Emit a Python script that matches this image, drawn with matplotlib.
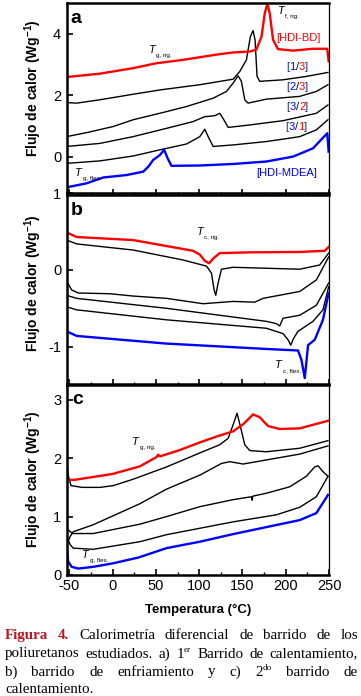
import matplotlib
matplotlib.use("Agg")
import matplotlib.pyplot as plt
from matplotlib.offsetbox import TextArea, HPacker, AnnotationBbox

plt.rcParams['font.family'] = ['Liberation Sans', 'DejaVu Sans']
plt.rcParams['mathtext.fontset'] = 'custom'
plt.rcParams['mathtext.rm'] = 'Liberation Sans'
plt.rcParams['mathtext.bf'] = 'Liberation Sans:bold'
plt.rcParams['mathtext.it'] = 'Liberation Sans:italic'
plt.rcParams['axes.unicode_minus'] = False

# ---------------- data: panel a (1st heating) ----------------
a_red_x = [-53.1, -14.6, 23.8, 50.8, 81.5, 120, 139.2, 158.5, 166, 172, 175.8, 178.8, 181.5, 185.4, 191, 208.5, 231.5, 248, 249.6]
a_red_y = [2.59, 2.70, 2.88, 3.04, 3.15, 3.32, 3.39, 3.42, 3.48, 3.9, 4.67, 4.98, 4.67, 3.8, 3.5, 3.45, 3.51, 3.51, 3.1]

a_13_x = [-53.1, -41.5, -14.6, 23.8, 54.6, 100.8, 139.2, 146.9, 154.6, 159.2, 162.3, 164.6, 166.9, 170, 196.9, 223.8, 248.8]
a_13_y = [1.76, 1.74, 1.85, 2.03, 2.17, 2.34, 2.52, 2.77, 3.15, 3.91, 4.1, 3.8, 2.61, 2.45, 2.5, 2.61, 2.74]

a_23_x = [-53.1, -30, 0.8, 23.8, 54.6, 85.4, 116, 131.5, 139.2, 145, 148.8, 152.7, 156.5, 177.7, 216, 235.4, 248.8]
a_23_y = [0.65, 0.78, 0.98, 1.2, 1.41, 1.63, 1.9, 2.12, 2.39, 2.63, 2.45, 1.85, 1.74, 1.87, 1.96, 2.12, 2.34]

a_32_x = [-53.1, -14.6, 23.8, 62.3, 93, 106.5, 118, 123.8, 128.5, 133.5, 158.5, 197, 235.4, 248.8]
a_32_y = [0.33, 0.43, 0.65, 0.92, 1.14, 1.30, 1.33, 1.41, 1.2, 0.95, 1.03, 1.17, 1.41, 1.68]

a_31_x = [-53.1, -14.6, 23.8, 54.6, 85.4, 100.8, 106.5, 110.4, 116.2, 139.2, 177.7, 216.2, 235.4, 248.8]
a_31_y = [-0.22, -0.14, 0.02, 0.22, 0.41, 0.65, 0.89, 0.65, 0.33, 0.38, 0.49, 0.65, 0.87, 1.2]

a_blue_x = [-53.1, -30, -10.8, 16.2, 35.4, 41.2, 46.9, 54.6, 59.6, 63.5, 68, 100.8, 139.2, 177.7, 208.5, 231.5, 248, 249.6]
a_blue_y = [-1.0, -0.87, -0.68, -0.6, -0.49, -0.33, -0.11, 0.05, 0.22, -0.05, -0.3, -0.29, -0.24, -0.16, 0.0, 0.27, 0.76, 0.16]

# ---------------- data: panel b (cooling) ----------------
b_red_x = [-53.1, -41.5, 23.8, 93, 100.8, 106.5, 111.5, 116.2, 123.8, 158.5, 216, 245, 249.6]
b_red_y = [0.49, 0.43, 0.39, 0.25, 0.2, 0.12, 0.087, 0.15, 0.22, 0.23, 0.235, 0.25, 0.30]

b_k1_x = [-53.1, -41.5, 23.8, 81.5, 108.5, 114.2, 117.3, 119.2, 121.9, 125.8, 139.2, 216.2, 239.2, 249.6]
b_k1_y = [0.39, 0.34, 0.26, 0.13, 0.05, -0.04, -0.26, -0.33, -0.17, 0.01, 0.035, 0.01, 0.065, 0.22]

b_k2_x = [-53.8, -47.3, -39.6, -3, 23.8, 62.3, 104.6, 139.2, 164.2, 173.8, 216.2, 235.4, 249.6]
b_k2_y = [-0.13, -0.26, -0.3, -0.31, -0.34, -0.37, -0.44, -0.41, -0.42, -0.37, -0.28, -0.13, 0.17]

b_k3_x = [-53.1, -41.5, 62.3, 177.7, 189.2, 193, 196.9, 216.2, 235.4, 249.6]
b_k3_y = [-0.33, -0.37, -0.5, -0.67, -0.7, -0.73, -0.63, -0.59, -0.46, -0.17]

b_k4_x = [-53.1, -41.5, 62.3, 177.7, 196.9, 202.7, 205.8, 209.2, 214.2, 231.5, 243, 249.6]
b_k4_y = [-0.48, -0.52, -0.65, -0.76, -0.83, -0.91, -0.98, -0.89, -0.8, -0.67, -0.52, -0.22]

b_blue_x = [-53.1, -41.5, 62.3, 177.7, 214.2, 218.1, 222, 225.8, 233.5, 243, 249.6]
b_blue_y = [-0.8, -0.86, -0.96, -1.03, -1.05, -1.17, -1.41, -0.98, -0.91, -0.65, -0.3]

# ---------------- data: panel c (2nd heating) ----------------
c_red_x = [-53.1, -52.6, -43.5, 0, 31.5, 50.8, 52.7, 54.6, 77.7, 100.8, 120, 139.2, 150.8, 162.3, 170, 179.6, 193, 216, 248.8]
c_red_y = [1.49, 1.63, 1.63, 1.73, 1.86, 2.02, 2.06, 2.03, 2.14, 2.27, 2.37, 2.46, 2.58, 2.75, 2.7, 2.55, 2.5, 2.51, 2.64]

c_k1_x = [-53.1, -51, -48, -35, -14.6, 0.8, 23.8, 62.3, 100.8, 123.8, 133.5, 139.2, 143.8, 147.7, 152.7, 158.5, 177.7, 216.2, 248.8]
c_k1_y = [1.94, 1.69, 1.53, 1.5, 1.5, 1.53, 1.64, 1.85, 2.09, 2.23, 2.34, 2.57, 2.77, 2.54, 2.23, 2.13, 2.11, 2.17, 2.3]

c_k2_x = [-53.1, -49, -45.5, -22.4, 31.5, 62.3, 100.8, 125.8, 135.4, 150.8, 177.7, 216.2, 248.8]
c_k2_y = [0.51, 0.66, 0.74, 0.86, 1.22, 1.47, 1.71, 1.91, 1.94, 1.9, 1.97, 2.07, 2.21]

c_k3_x = [-53.1, -49, -45.5, -22.4, 31.5, 62.3, 100.8, 139.2, 160.4, 161.2, 162.0, 177.7, 204.6, 223.8, 233.5, 237.3, 243, 248.8]
c_k3_y = [0.8, 0.74, 0.71, 0.71, 0.87, 1.0, 1.17, 1.29, 1.34, 1.28, 1.35, 1.4, 1.51, 1.69, 1.85, 1.87, 1.77, 1.69]

c_k4_x = [-53.1, -49, -45.5, -22.4, 31.5, 62.3, 100.8, 139.2, 189.2, 216.2, 235.4, 248.8]
c_k4_y = [0.66, 0.52, 0.46, 0.44, 0.57, 0.69, 0.8, 0.91, 1.03, 1.16, 1.34, 1.69]

c_blue_x = [-53.1, -51.3, -47.3, -39.6, -22.4, 0.5, 30, 62.3, 100.8, 139.2, 177.7, 216.2, 235.4, 248.8]
c_blue_y = [0.49, 0.23, 0.14, 0.11, 0.14, 0.2, 0.3, 0.46, 0.57, 0.7, 0.82, 0.94, 1.06, 1.37]

x_ticks = [-50, 0, 50, 100, 150, 200, 250]
a_yticks = [0, 2, 4]
b_yticks = [-1, 0, 1]
c_yticks = [0, 1, 2, 3]

RED = '#FF0000'
BLUE = '#0000FF'
NAVY = '#1a2a8a'

W, H = 361, 696
fig = plt.figure(figsize=(W / 100, H / 100), dpi=100)

left = 66.7 / W
width = (329 - 66.7) / W

def ax_at(top_px, bot_px):
    return fig.add_axes([left, 1 - bot_px / H, width, (bot_px - top_px) / H])

ax_a = ax_at(3, 195)
ax_b = ax_at(193.3, 385)
ax_c = ax_at(384, 575)

for ax in (ax_a, ax_b, ax_c):
    ax.set_xlim(-53, 250)
    ax.set_xticks(x_ticks)
    ax.set_xticks(range(-25, 250, 50), minor=True)
    ax.tick_params(which='both', direction='in', top=False, right=False,
                   labelsize=10.5)
    ax.tick_params(axis='y', pad=4)
    ax.tick_params(axis='x', pad=3)
    ax.tick_params(which='major', length=4.5, width=1.2)
    ax.tick_params(which='minor', length=2.5, width=1.0)
    for s in ('left', 'top', 'bottom'):
        ax.spines[s].set_linewidth(1.8)
    ax.spines['right'].set_linewidth(0.9)
    ax.patch.set_alpha(0)

ax_a.set_ylim(-1.25, 5.0)
ax_a.set_yticks(a_yticks)
ax_b.set_ylim(-1.5, 1.0)
ax_b.set_yticks(b_yticks)
ax_c.set_ylim(0, 3.27)
ax_c.set_yticks(c_yticks)
ax_a.tick_params(labelbottom=False)
ax_b.tick_params(labelbottom=False)

lw_c, lw_k = 1.7, 1.0
# panel a
ax_a.plot(a_31_x, a_31_y, color='black', lw=lw_k)
ax_a.plot(a_32_x, a_32_y, color='black', lw=lw_k)
ax_a.plot(a_23_x, a_23_y, color='black', lw=lw_k)
ax_a.plot(a_13_x, a_13_y, color='black', lw=lw_k)
ax_a.plot(a_blue_x, a_blue_y, color=BLUE, lw=lw_c)
ax_a.plot(a_red_x, a_red_y, color=RED, lw=lw_c)
# panel b
for xs, ys in ((b_k1_x, b_k1_y), (b_k2_x, b_k2_y), (b_k3_x, b_k3_y), (b_k4_x, b_k4_y)):
    ax_b.plot(xs, ys, color='black', lw=lw_k)
ax_b.plot(b_red_x, b_red_y, color=RED, lw=lw_c)
ax_b.plot(b_blue_x, b_blue_y, color=BLUE, lw=lw_c)
# panel c
for xs, ys in ((c_k1_x, c_k1_y), (c_k2_x, c_k2_y), (c_k3_x, c_k3_y), (c_k4_x, c_k4_y)):
    ax_c.plot(xs, ys, color='black', lw=lw_k)
ax_c.plot(c_red_x, c_red_y, color=RED, lw=lw_c)
ax_c.plot(c_blue_x, c_blue_y, color=BLUE, lw=lw_c)

ylab = r"Flujo de calor (Wg$^{\mathbf{-1}}$)"
for ax, yc in ((ax_a, 0.557), (ax_b, 0.532), (ax_c, 0.5)):
    ax.set_ylabel(ylab, fontsize=10, fontweight='bold')
    ax.yaxis.set_label_coords(-0.088, yc)
ax_c.set_xlabel("Temperatura (°C)", fontsize=9.5, fontweight='bold', labelpad=8)

# panel letters
ax_a.text(-42, 4.5, 'a', fontsize=14, fontweight='bold', va='center', ha='center')
ax_b.text(-42, 0.78, 'b', fontsize=14, fontweight='bold', va='center', ha='center')
ax_c.text(-40, 3.0, 'c', fontsize=14, fontweight='bold', va='center', ha='center')

def tlabel(ax, x, y, sub):
    ax.text(x, y, "T", style='italic', fontsize=8, ha='left', va='center')
    ax.annotate(sub, (x, y), xytext=(5.2, -2.2), textcoords='offset points',
                fontsize=4.5, ha='left', va='top')

tlabel(ax_a, 42, 3.48, "g, rig.")
tlabel(ax_a, 191, 4.73, "f, rig.")
tlabel(ax_a, -43, -0.52, "g, flex.")
tlabel(ax_b, 97, 0.49, "c, rig.")
tlabel(ax_b, 188, -1.24, "c, flex.")
tlabel(ax_c, 23, 2.27, "g, rig.")
tlabel(ax_c, -35, 0.34, "g, flex.")

ax_a.text(215, 3.86, "[HDI-BD]", color=RED, fontsize=8, ha='center', va='center')
ax_a.text(201, -0.54, "[HDI-MDEA]", color=BLUE, fontsize=8, ha='center', va='center')

def ratio_label(ax, x, y, n1, n2):
    parts = [("[", NAVY), (n1, BLUE), ("/", 'black'), (n2, RED), ("]", NAVY)]
    kids = [TextArea(t, textprops=dict(color=c, fontsize=8)) for t, c in parts]
    box = HPacker(children=kids, align='baseline', pad=0, sep=0)
    ab = AnnotationBbox(box, (x, y), frameon=False, box_alignment=(0.5, 0.5), pad=0)
    ax.add_artist(ab)

ratio_label(ax_a, 213.5, 2.91, "1", "3")
ratio_label(ax_a, 213.5, 2.26, "2", "3")
ratio_label(ax_a, 213.5, 1.61, "3", "2")
ratio_label(ax_a, 212.5, 0.95, "3", "1")

# ---------------- caption (justified) ----------------
CAP_RED = '#C0141E'
fs = 10.8
serif = ['Liberation Serif', 'DejaVu Serif']
B = dict(fontweight='bold', color=CAP_RED)
N = dict()
cap_line1 = [[("Figura", B, 0)], [("4.", B, 0)], [("Calorimetría", N, 0)], [("diferencial", N, 0)],
             [("de", N, 0)], [("barrido", N, 0)], [("de", N, 0)], [("los", N, 0)]]
cap_line2 = [[("poliuretanos", N, 0)], [("estudiados.", N, 0)], [("a)", N, 0)],
             [("1", N, 0), ("er", 'sup', 0)], [("Barrido", N, 0)], [("de", N, 0)], [("calentamiento,", N, 0)]]
cap_line3 = [[("b)", N, 0)], [("barrido", N, 0)], [("de", N, 0)], [("enfriamiento", N, 0)], [("y", N, 0)],
             [("c)", N, 0)], [("2", N, 0), ("do", 'sup', 0)], [("barrido", N, 0)], [("de", N, 0)]]
cap_line4 = [[("calentamiento.", N, 0)]]

fig.canvas.draw()
renderer = fig.canvas.get_renderer()

def make_piece(txt, props):
    if props == 'sup':
        t = fig.text(0, 0, txt, fontsize=fs * 0.6, family=serif, transform=None)
        t._sup = True
    else:
        t = fig.text(0, 0, txt, fontsize=fs, family=serif, transform=None, **props)
        t._sup = False
    return t

def place_line(tokens, y_base, x0, x1, justify=True):
    built = []
    for tok in tokens:
        pieces = [make_piece(t, p) for t, p, _ in tok]
        widths = [p.get_window_extent(renderer).width for p in pieces]
        built.append((pieces, widths))
    total = sum(sum(w) for _, w in built)
    space_w = fs * 100 / 72 * 0.25
    if justify and len(built) > 1:
        gap = (x1 - x0 - total) / (len(built) - 1)
    else:
        gap = space_w
    x = x0
    for pieces, widths in built:
        for p, w in zip(pieces, widths):
            yy = H - y_base + (fs * 100 / 72 * 0.38 if p._sup else 0)
            p.set_position((x, yy))
            p.set_va('baseline')
            x += w
        x += gap

place_line(cap_line1, 639, 5, 358)
place_line(cap_line2, 657.5, 5, 358)
place_line(cap_line3, 675.5, 5, 358)
place_line(cap_line4, 693, 5, 358, justify=False)

fig.savefig("out.png", dpi=100)
